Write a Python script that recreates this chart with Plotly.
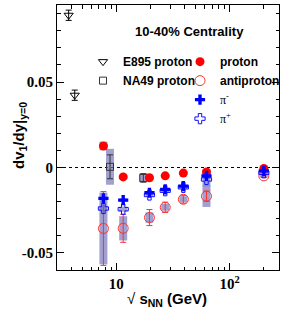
import plotly.graph_objects as go

# ---------------- data ----------------
energies = [7.7, 11.5, 19.6, 27, 39, 62.4, 200]

proton = [0.0126, -0.0055, -0.0060, -0.0049, -0.0033, -0.0026, -0.0006]
proton_stat = [0.0012, 0.0008, 0.0005, 0.0004, 0.0003, 0.0004, 0.0003]
proton_sys = [0.0025, 0.0010, 0.0010, 0.0008, 0.0008, 0.0015, 0.0010]

antiproton = [-0.0357, -0.0356, -0.0293, -0.0233, -0.0186, -0.0168, -0.0049]
antiproton_stat = [0.0216, 0.0082, 0.0047, 0.0030, 0.0023, 0.0030, 0.0010]
antiproton_sys = [0.0210, 0.0071, 0.0030, 0.0020, 0.0018, 0.0063, 0.0010]

pion_minus = [-0.0181, -0.0191, -0.0148, -0.0128, -0.0109, -0.0049, -0.0020]
pion_minus_sys = [0.0010, 0.0010, 0.0008, 0.0008, 0.0008, 0.0015, 0.0008]
pion_plus = [-0.0240, -0.0244, -0.0161, -0.0136, -0.0116, -0.0070, -0.0031]
pion_plus_sys = [0.0015, 0.0015, 0.0010, 0.0010, 0.0010, 0.0040, 0.0010]

na49_energies = [8.8, 17.3]
na49_proton = [0.0004, -0.0061]
na49_stat = [0.0070, 0.0025]
na49_sys = [0.0105, 0.0025]

e895_energies = [3.8, 4.3]
e895_proton = [0.0891, 0.0423]
e895_err = [0.0030, 0.0030]

y_tickvals = [-0.05, 0, 0.05]
y_ticktext = ["-0.05", "0", "0.05"]
x_tickvals = [10, 100]
x_ticktext = ["10", "10<sup>2</sup>"]
x_minor = [3, 4, 5, 6, 7, 8, 9, 20, 30, 40, 50, 60, 70, 80, 90, 200]

SYS_COLOR = "rgba(120,120,190,0.7)"
SANS = "Liberation Sans, Arial, sans-serif"
SERIF = "Liberation Serif, Times New Roman, serif"

fig = go.Figure()


def sys_trace(x, y, err):
    return go.Scatter(
        x=x, y=y, mode="markers", showlegend=False, hoverinfo="skip",
        marker=dict(size=1, color="rgba(0,0,0,0)"),
        error_y=dict(type="data", array=err, visible=True, color=SYS_COLOR,
                     thickness=8, width=0),
    )


# systematic boxes
fig.add_trace(sys_trace(na49_energies, na49_proton, na49_sys))
fig.add_trace(sys_trace(energies, antiproton, antiproton_sys))
fig.add_trace(sys_trace(energies, proton, proton_sys))
fig.add_trace(sys_trace(energies, pion_plus, pion_plus_sys))
fig.add_trace(sys_trace(energies, pion_minus, pion_minus_sys))

# E895
fig.add_trace(go.Scatter(
    x=e895_energies, y=e895_proton, mode="markers", name="E895 proton",
    legend="legend", legendrank=1,
    marker=dict(symbol="triangle-down-open", size=8, color="black",
                line=dict(width=1)),
    error_y=dict(type="data", array=e895_err, color="black", thickness=1, width=3),
))
# NA49
fig.add_trace(go.Scatter(
    x=na49_energies, y=na49_proton, mode="markers", name="NA49 proton",
    legend="legend", legendrank=2,
    marker=dict(symbol="square-open", size=7, color="#333333",
                line=dict(width=1)),
    error_y=dict(type="data", array=na49_stat, color="#333333", thickness=1, width=3),
))
# antiproton
fig.add_trace(go.Scatter(
    x=energies, y=antiproton, mode="markers", name="antiproton",
    legend="legend2", legendrank=2,
    marker=dict(symbol="circle-open", size=10, color="#ff3030",
                line=dict(width=1)),
    error_y=dict(type="data", array=antiproton_stat, color="#ff3030",
                 thickness=1, width=3),
))
# proton
fig.add_trace(go.Scatter(
    x=energies, y=proton, mode="markers", name="proton",
    legend="legend2", legendrank=1,
    marker=dict(symbol="circle", size=9, color="#ff0000"),
    error_y=dict(type="data", array=proton_stat, color="#ff0000",
                 thickness=1, width=3),
))
# pi+
fig.add_trace(go.Scatter(
    x=energies, y=pion_plus, mode="markers",
    name="<span style='font-family:Liberation Serif;font-weight:normal'>π<sup>+</sup></span>",
    legend="legend2", legendrank=4,
    marker=dict(symbol="cross-open", size=8.5, color="#1010ff",
                line=dict(width=1)),
))
# pi-
fig.add_trace(go.Scatter(
    x=energies, y=pion_minus, mode="markers",
    name="<span style='font-family:Liberation Serif;font-weight:normal'>π<sup>-</sup></span>",
    legend="legend2", legendrank=3,
    marker=dict(symbol="cross", size=8.5, color="#0000ff", line=dict(width=0)),
))

# zero line
fig.add_shape(type="line", xref="paper", yref="y", x0=0, x1=1, y0=0, y1=0,
              line=dict(color="black", width=1, dash="dot"), layer="below")

axis_common = dict(
    showline=True, linecolor="black", linewidth=1, mirror="allticks",
    ticks="inside", ticklen=7, tickcolor="black", tickwidth=1,
    showgrid=False, zeroline=False,
)

fig.update_xaxes(
    type="log", range=[0.4771, 2.4346],
    tickmode="array", tickvals=x_tickvals, ticktext=x_ticktext,
    tickfont=dict(family=SERIF, size=15, color="black", weight="bold"),
    minor=dict(tickmode="array", tickvals=x_minor, ticks="inside",
               ticklen=3.5, tickcolor="black", tickwidth=1, showgrid=False),
    **axis_common,
)
fig.update_yaxes(
    range=[-0.060, 0.0951],
    tickmode="array", tickvals=y_tickvals, ticktext=y_ticktext,
    tickfont=dict(family=SERIF, size=15, color="black", weight="bold"),
    minor=dict(dtick=0.01, tick0=0, ticks="inside", ticklen=3.5,
               tickcolor="black", tickwidth=1, showgrid=False),
    **axis_common,
)

legend_font = dict(family=SANS, size=12, color="black", weight="bold")
fig.update_layout(
    width=291, height=313,
    margin=dict(l=57, r=12, t=5, b=43),
    paper_bgcolor="white", plot_bgcolor="white",
    showlegend=True,
    legend=dict(x=(83 - 57) / 222, y=0.841, xanchor="left", yanchor="top",
                bgcolor="rgba(0,0,0,0)", font=legend_font,
                tracegroupgap=0, itemsizing="trace"),
    legend2=dict(x=(180 - 57) / 222, y=0.841, xanchor="left", yanchor="top",
                 bgcolor="rgba(0,0,0,0)", font=legend_font,
                 tracegroupgap=0, itemsizing="trace"),
    annotations=[
        dict(text="<b>10-40% Centrality</b>", xref="paper", yref="paper",
             x=(189 - 57) / 222, y=(270 - 32) / 265, xanchor="center",
             yanchor="middle", showarrow=False,
             font=dict(family=SANS, size=13, color="black")),
        dict(text="<b>dv<sub>1</sub>/dy|<sub>y=0</sub></b>", xref="paper",
             yref="paper", x=(19 - 57) / 222, y=(270 - 136) / 265,
             xanchor="center", yanchor="middle", textangle=-90,
             showarrow=False, font=dict(family=SANS, size=15, color="black")),
        dict(text="√ <b>s<sub>NN</sub> (GeV)</b>", xref="paper", yref="paper",
             x=(167 - 57) / 222, y=(270 - 299) / 265, xanchor="center",
             yanchor="middle", showarrow=False,
             font=dict(family=SANS, size=15, color="black")),
    ],
)

fig.write_html("out.html",
               config={"displayModeBar": False},
               post_script="document.body.style.margin='0';"
                           "document.body.style.overflow='hidden';")
